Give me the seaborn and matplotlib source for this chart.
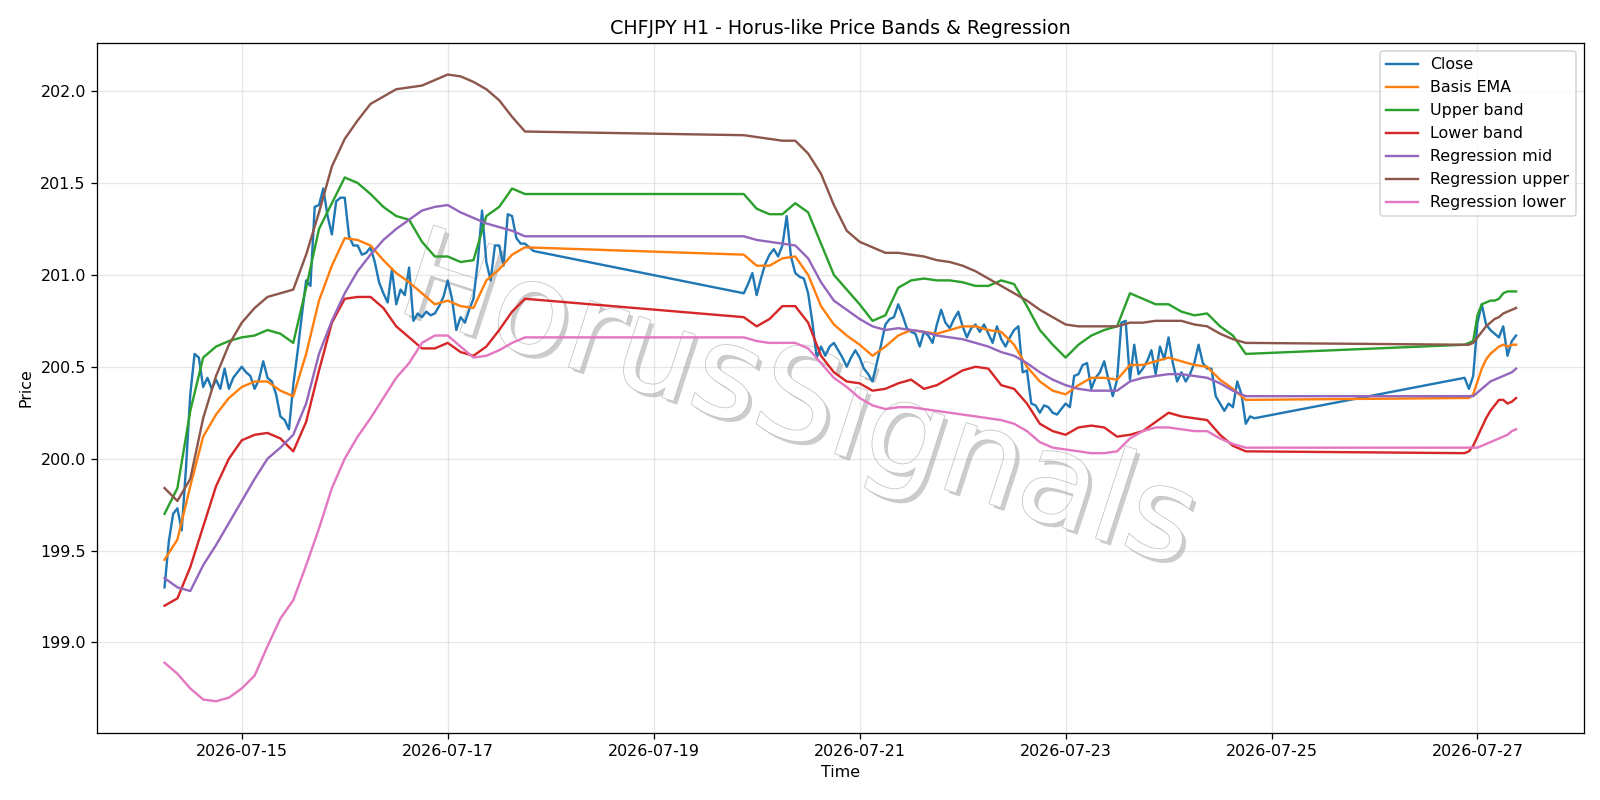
"""CHFJPY H1 price bands and regression channel, redrawn from the reference chart"""
import matplotlib

matplotlib.use("Agg")
import matplotlib.dates as mdates
import matplotlib.patheffects as pe
import matplotlib.pyplot as plt
import pandas as pd
import seaborn as sns

# hourly bars, the market is shut over the weekends
close_times = (
    pd.date_range("2026-07-14 06:00", "2026-07-17 20:00", freq="h")
    .append(pd.date_range("2026-07-19 21:00", "2026-07-24 20:00", freq="h"))
    .append(pd.date_range("2026-07-26 21:00", "2026-07-27 09:00", freq="h"))
)
# indicator lines (every bar on the last day)
band_times = (
    pd.date_range("2026-07-14 06:00", "2026-07-17 18:00", freq="3h")
    .append(pd.date_range("2026-07-19 21:00", "2026-07-24 18:00", freq="3h"))
    .append(pd.date_range("2026-07-26 21:00", "2026-07-27 09:00", freq="h"))
)

close = [
    199.30, 199.55, 199.70, 199.73, 199.61, 199.95, 200.35, 200.57, 200.55, 200.39,
    200.44, 200.38, 200.43, 200.38, 200.49, 200.38, 200.44, 200.47, 200.50, 200.47,
    200.45, 200.38, 200.43, 200.53, 200.44, 200.42, 200.35, 200.23, 200.21, 200.16,
    200.40, 200.58, 200.78, 200.97, 200.94, 201.37, 201.38, 201.47, 201.32, 201.22,
    201.40, 201.42, 201.42, 201.21, 201.16, 201.16, 201.11, 201.12, 201.15, 201.07,
    200.96, 200.90, 200.85, 201.03, 200.84, 200.92, 200.89, 201.04, 200.75, 200.79,
    200.77, 200.80, 200.78, 200.79, 200.83, 200.88, 200.97, 200.87, 200.70, 200.77,
    200.74, 200.81, 200.87, 201.07, 201.35, 201.07, 200.97, 201.16, 201.16, 201.05,
    201.33, 201.32, 201.20, 201.17, 201.17, 201.15, 201.13,
    # week 2
    200.90, 200.95, 201.01, 200.89, 200.98, 201.06, 201.11, 201.14, 201.10, 201.16,
    201.32, 201.10, 201.01, 200.99, 200.98, 200.90, 200.74, 200.55, 200.61, 200.56,
    200.61, 200.63, 200.59, 200.55, 200.50, 200.55, 200.59, 200.55, 200.49, 200.46,
    200.42, 200.52, 200.62, 200.73, 200.76, 200.77, 200.84, 200.78, 200.71, 200.69,
    200.68, 200.61, 200.69, 200.67, 200.63, 200.73, 200.81, 200.74, 200.71, 200.76,
    200.80, 200.72, 200.66, 200.71, 200.73, 200.69, 200.73, 200.68, 200.63, 200.72,
    200.65, 200.61, 200.66, 200.70, 200.72, 200.47, 200.48, 200.30, 200.29, 200.25,
    200.29, 200.28, 200.25, 200.24, 200.27, 200.30, 200.28, 200.45, 200.46, 200.51,
    200.52, 200.38, 200.44, 200.47, 200.53, 200.43, 200.34, 200.43, 200.74, 200.75,
    200.43, 200.62, 200.46, 200.49, 200.53, 200.59, 200.46, 200.61, 200.54, 200.66,
    200.52, 200.42, 200.47, 200.42, 200.46, 200.52, 200.62, 200.52, 200.49, 200.49,
    200.34, 200.30, 200.26, 200.30, 200.28, 200.42, 200.35, 200.19, 200.23, 200.22,
    # monday
    200.44, 200.38, 200.45, 200.74, 200.84, 200.73, 200.70, 200.68, 200.66, 200.72,
    200.56, 200.64, 200.67,
]

basis_ema = [
    199.45, 199.56, 199.85, 200.12, 200.24, 200.33, 200.39, 200.42, 200.42, 200.37,
    200.34, 200.57, 200.86, 201.05, 201.20, 201.19, 201.16, 201.08, 201.01, 200.96,
    200.90, 200.84, 200.86, 200.83, 200.82, 200.97, 201.03, 201.11, 201.15,
    201.11, 201.05, 201.05, 201.09, 201.10, 201.00, 200.83, 200.73, 200.67, 200.62,
    200.56, 200.61, 200.67, 200.70, 200.69, 200.68, 200.70, 200.72, 200.72, 200.70,
    200.69, 200.62, 200.50, 200.42, 200.37, 200.35, 200.40, 200.44, 200.44, 200.43,
    200.51, 200.51, 200.53, 200.55, 200.53, 200.51, 200.50, 200.43, 200.38, 200.32,
    200.33, 200.33, 200.35, 200.42, 200.49, 200.54, 200.57, 200.59, 200.61, 200.62,
    200.61, 200.62, 200.62,
]

upper_band = [
    199.70, 199.84, 200.26, 200.55, 200.61, 200.64, 200.66, 200.67, 200.70, 200.68,
    200.63, 200.93, 201.25, 201.39, 201.53, 201.50, 201.44, 201.37, 201.32, 201.30,
    201.18, 201.10, 201.10, 201.07, 201.08, 201.32, 201.37, 201.47, 201.44,
    201.44, 201.36, 201.33, 201.33, 201.39, 201.34, 201.17, 201.00, 200.92, 200.84,
    200.75, 200.78, 200.93, 200.97, 200.98, 200.97, 200.97, 200.96, 200.94, 200.94,
    200.97, 200.95, 200.83, 200.70, 200.62, 200.55, 200.62, 200.67, 200.70, 200.72,
    200.90, 200.87, 200.84, 200.84, 200.80, 200.78, 200.79, 200.72, 200.67, 200.57,
    200.62, 200.63, 200.64, 200.78, 200.84, 200.85, 200.86, 200.86, 200.87, 200.90,
    200.91, 200.91, 200.91,
]

lower_band = [
    199.20, 199.24, 199.41, 199.63, 199.85, 200.00, 200.10, 200.13, 200.14, 200.11,
    200.04, 200.20, 200.48, 200.74, 200.87, 200.88, 200.88, 200.82, 200.72, 200.66,
    200.60, 200.60, 200.63, 200.58, 200.56, 200.61, 200.70, 200.80, 200.87,
    200.77, 200.72, 200.76, 200.83, 200.83, 200.74, 200.56, 200.47, 200.42, 200.41,
    200.37, 200.38, 200.41, 200.43, 200.38, 200.40, 200.44, 200.48, 200.50, 200.49,
    200.40, 200.38, 200.30, 200.19, 200.15, 200.13, 200.17, 200.18, 200.17, 200.12,
    200.13, 200.15, 200.20, 200.25, 200.23, 200.22, 200.21, 200.13, 200.07, 200.04,
    200.03, 200.04, 200.07, 200.12, 200.17, 200.22, 200.26, 200.29, 200.32, 200.32,
    200.30, 200.31, 200.33,
]

reg_mid = [
    199.35, 199.30, 199.28, 199.42, 199.53, 199.65, 199.77, 199.89, 200.00, 200.06,
    200.13, 200.30, 200.57, 200.75, 200.90, 201.02, 201.11, 201.19, 201.25, 201.30,
    201.35, 201.37, 201.38, 201.34, 201.31, 201.28, 201.26, 201.24, 201.21,
    201.21, 201.19, 201.18, 201.17, 201.16, 201.09, 200.96, 200.86, 200.81, 200.76,
    200.72, 200.70, 200.71, 200.70, 200.69, 200.67, 200.66, 200.65, 200.63, 200.61,
    200.58, 200.56, 200.52, 200.47, 200.43, 200.40, 200.38, 200.37, 200.37, 200.37,
    200.42, 200.44, 200.45, 200.46, 200.46, 200.45, 200.44, 200.41, 200.37, 200.34,
    200.34, 200.34, 200.34, 200.36, 200.38, 200.40, 200.42, 200.43, 200.44, 200.45,
    200.46, 200.47, 200.49,
]

reg_upper = [
    199.84, 199.77, 199.89, 200.22, 200.45, 200.62, 200.74, 200.82, 200.88, 200.90,
    200.92, 201.11, 201.34, 201.59, 201.74, 201.84, 201.93, 201.97, 202.01, 202.02,
    202.03, 202.06, 202.09, 202.08, 202.05, 202.01, 201.95, 201.86, 201.78,
    201.76, 201.75, 201.74, 201.73, 201.73, 201.66, 201.55, 201.38, 201.24, 201.18,
    201.15, 201.12, 201.12, 201.11, 201.10, 201.08, 201.07, 201.05, 201.02, 200.98,
    200.94, 200.90, 200.86, 200.81, 200.77, 200.73, 200.72, 200.72, 200.72, 200.72,
    200.74, 200.74, 200.75, 200.75, 200.75, 200.73, 200.72, 200.68, 200.65, 200.63,
    200.62, 200.62, 200.63, 200.66, 200.69, 200.72, 200.74, 200.76, 200.77, 200.79,
    200.80, 200.81, 200.82,
]

reg_lower = [
    198.89, 198.83, 198.75, 198.69, 198.68, 198.70, 198.75, 198.82, 198.98, 199.13,
    199.23, 199.42, 199.62, 199.84, 200.00, 200.12, 200.22, 200.33, 200.44, 200.52,
    200.63, 200.67, 200.67, 200.61, 200.55, 200.56, 200.59, 200.63, 200.66,
    200.66, 200.64, 200.63, 200.63, 200.63, 200.60, 200.52, 200.44, 200.39, 200.33,
    200.29, 200.27, 200.28, 200.28, 200.27, 200.26, 200.25, 200.24, 200.23, 200.22,
    200.21, 200.19, 200.15, 200.09, 200.06, 200.05, 200.04, 200.03, 200.03, 200.04,
    200.11, 200.15, 200.17, 200.17, 200.16, 200.15, 200.15, 200.11, 200.08, 200.06,
    200.06, 200.06, 200.06, 200.06, 200.07, 200.08, 200.09, 200.10, 200.11, 200.12,
    200.13, 200.15, 200.16,
]


def plot_line(ax, times, values, label, color):
    sns.lineplot(
        x=times,
        y=values,
        ax=ax,
        label=label,
        color=color,
        linewidth=1.5,
        estimator=None,
        sort=False,
    )


def add_watermark(ax, text):
    # outlined grey lettering with a soft drop shadow, sits under the lines
    ax.text(
        0.4715,
        0.476,
        text,
        transform=ax.transAxes,
        fontsize=80,
        rotation=-18,
        ha="center",
        va="center",
        color="white",
        zorder=1,
        path_effects=[
            pe.withSimplePatchShadow(offset=(2.5, -2.5), shadow_rgbFace="black", alpha=0.2),
            pe.withStroke(linewidth=1.0, foreground="#c4c4c4"),
        ],
    )


def main():
    # the source figure was 14x7 inches, saved at 1600x800
    fig, ax = plt.subplots(figsize=(14, 7), dpi=1600 / 14)
    fig.subplots_adjust(left=0.0606, right=0.9898, bottom=0.0842, top=0.946)

    add_watermark(ax, "HorusSignals")

    plot_line(ax, close_times, close, "Close", "C0")
    plot_line(ax, band_times, basis_ema, "Basis EMA", "C1")
    plot_line(ax, band_times, upper_band, "Upper band", "C2")
    plot_line(ax, band_times, lower_band, "Lower band", "C3")
    plot_line(ax, band_times, reg_mid, "Regression mid", "C4")
    plot_line(ax, band_times, reg_upper, "Regression upper", "C5")
    plot_line(ax, band_times, reg_lower, "Regression lower", "C6")

    ax.xaxis.set_major_locator(mdates.DayLocator(bymonthday=range(1, 32, 2)))
    ax.xaxis.set_major_formatter(mdates.DateFormatter("%Y-%m-%d"))
    ax.grid(True, alpha=0.3)
    ax.set_title("CHFJPY H1 - Horus-like Price Bands & Regression")
    ax.set_xlabel("Time")
    ax.set_ylabel("Price")
    ax.legend(loc="upper right")

    fig.savefig("out.png", dpi=1600 / 14)
    plt.close(fig)


if __name__ == "__main__":
    main()
